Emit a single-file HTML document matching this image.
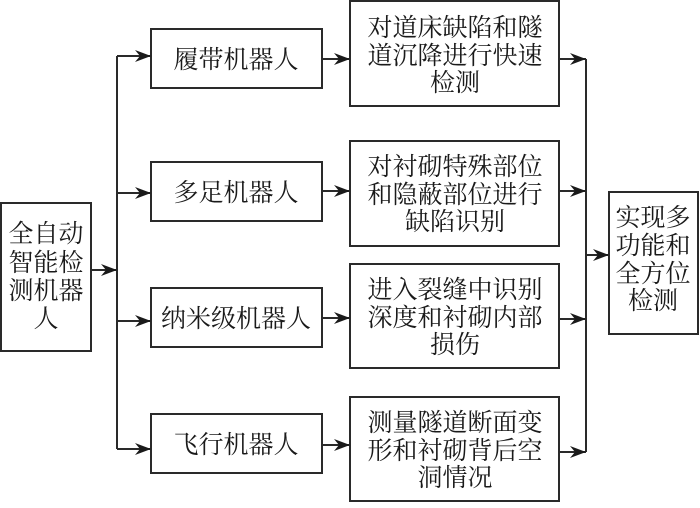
<!DOCTYPE html>
<html><head><meta charset="utf-8"><style>
body{margin:0;background:#fff}
svg text{font-family:"Liberation Serif","Noto Serif CJK SC","Noto Sans CJK SC",serif;fill:#1a1a1a;text-anchor:middle}
</style></head><body>
<svg width="700" height="503" viewBox="0 0 700 503" xmlns="http://www.w3.org/2000/svg">
<defs><marker id="a" markerWidth="16" markerHeight="12" refX="16" refY="6" orient="auto" markerUnits="userSpaceOnUse"><path d="M0,0 L16,6 L0,12 L5,6 Z" fill="#1a1a1a"/></marker></defs>
<g fill="none" stroke="#2a2a2a" stroke-width="2">
<rect x="1" y="203" width="90" height="148"/>
<rect x="151" y="29" width="171" height="59"/>
<rect x="151" y="162" width="171" height="59"/>
<rect x="151" y="288" width="171" height="59"/>
<rect x="151" y="414" width="171" height="59"/>
<rect x="350" y="1" width="209" height="105"/>
<rect x="350" y="141" width="209" height="105"/>
<rect x="350" y="264" width="209" height="104"/>
<rect x="350" y="397" width="209" height="104"/>
<rect x="609" y="192" width="89" height="142"/>
<path d="M117,56 V449"/>
<path d="M586,59 V452"/>
</g>
<g stroke="#2a2a2a" stroke-width="2" marker-end="url(#a)">
<line x1="91" y1="270" x2="117" y2="270"/>
<line x1="117" y1="56" x2="151" y2="56"/>
<line x1="117" y1="193" x2="151" y2="193"/>
<line x1="117" y1="321" x2="151" y2="321"/>
<line x1="117" y1="449" x2="151" y2="449"/>
<line x1="322" y1="59" x2="350" y2="59"/>
<line x1="322" y1="191" x2="350" y2="191"/>
<line x1="322" y1="318" x2="350" y2="318"/>
<line x1="322" y1="445" x2="350" y2="445"/>
<line x1="559" y1="59" x2="586" y2="59"/>
<line x1="559" y1="191" x2="586" y2="191"/>
<line x1="559" y1="319" x2="586" y2="319"/>
<line x1="559" y1="452" x2="586" y2="452"/>
<line x1="586" y1="255" x2="609" y2="255"/>
</g>
<g font-size="25">
<text x="46" y="242">全自动</text><text x="46" y="271">智能检</text><text x="46" y="299">测机器</text><text x="46" y="327">人</text>
<text x="236" y="68">履带机器人</text>
<text x="236" y="201">多足机器人</text>
<text x="236" y="327">纳米级机器人</text>
<text x="236" y="453">飞行机器人</text>
<text x="455" y="36">对道床缺陷和隧</text><text x="455" y="64">道沉降进行快速</text><text x="455" y="91">检测</text>
<text x="455" y="175">对衬砌特殊部位</text><text x="455" y="203">和隐蔽部位进行</text><text x="455" y="230">缺陷识别</text>
<text x="455" y="298">进入裂缝中识别</text><text x="455" y="326">深度和衬砌内部</text><text x="455" y="353">损伤</text>
<text x="455" y="431">测量隧道断面变</text><text x="455" y="459">形和衬砌背后空</text><text x="455" y="486">洞情况</text>
<text x="653" y="226">实现多</text><text x="653" y="254">功能和</text><text x="653" y="282">全方位</text><text x="653" y="309">检测</text>
</g>
</svg>
</body></html>
